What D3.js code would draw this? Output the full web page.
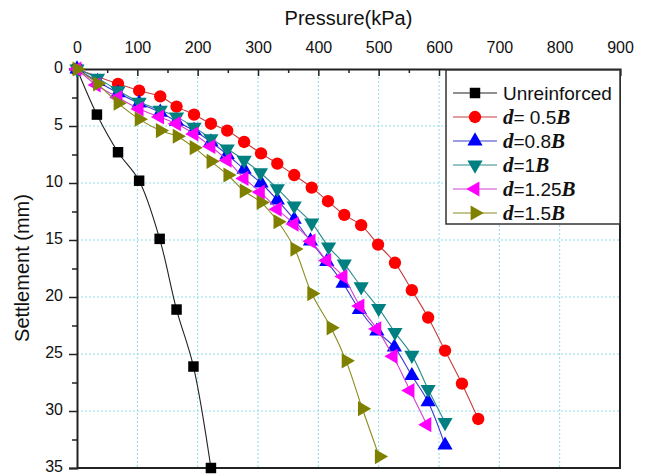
<!DOCTYPE html>
<html>
<head>
<meta charset="utf-8">
<script src="https://cdn.jsdelivr.net/npm/d3@7"></script>
<style>
  body { margin: 0; background: #fff; }
  svg { display: block; }
</style>
</head>
<body>
<div id="chart"></div>
<script>
// pressure (kPa) / settlement (mm)
const unreinforcedP = [0, 33, 68, 103, 137, 165, 193, 222];
const unreinforcedS = [0, 4.0, 7.3, 9.8, 14.9, 21.1, 26.1, 35.0];

const d05P = [0, 68, 103, 138, 165, 194, 222, 249, 277, 305, 332, 360, 389, 416, 443, 471, 499, 527, 555, 582, 610, 638, 665];
const d05S = [0, 1.3, 1.9, 2.4, 3.3, 4.0, 4.8, 5.4, 6.4, 7.4, 8.3, 9.3, 10.4, 11.6, 12.8, 13.7, 15.4, 17.0, 19.4, 21.8, 24.7, 27.6, 30.7];

const d08P = [0, 34, 68, 103, 138, 165, 194, 222, 249, 277, 305, 332, 360, 387, 414, 441, 468, 497, 526, 555, 582, 610];
const d08S = [0, 1.1, 2.1, 3.0, 3.8, 4.6, 5.4, 6.4, 7.5, 8.8, 10.0, 11.5, 13.2, 15.1, 16.9, 18.8, 21.1, 23.0, 24.4, 26.9, 29.2, 33.0];

const d10P = [0, 34, 68, 103, 138, 165, 194, 222, 249, 277, 304, 332, 360, 389, 417, 443, 471, 500, 527, 555, 582, 610];
const d10S = [0, 0.8, 1.9, 2.9, 3.6, 4.2, 5.1, 6.1, 7.0, 8.0, 9.1, 10.5, 12.0, 13.5, 15.6, 17.1, 19.1, 21.0, 23.1, 25.1, 28.1, 31.0];

const d125P = [0, 32, 68, 103, 137, 165, 194, 222, 249, 277, 304, 332, 360, 388, 414, 441, 469, 497, 524, 552, 580];
const d125S = [0, 1.4, 2.5, 3.5, 4.2, 4.8, 5.7, 6.8, 8.0, 9.6, 10.8, 12.3, 13.6, 15.1, 16.8, 18.2, 20.8, 22.8, 25.2, 28.2, 31.2];

const d15P = [0, 34, 68, 103, 138, 166, 194, 222, 250, 277, 305, 333, 361, 389, 421, 446, 473, 501];
const d15S = [0, 1.3, 3.0, 4.4, 5.4, 5.9, 6.9, 8.1, 9.3, 10.7, 11.7, 13.4, 15.8, 19.7, 22.7, 25.6, 29.8, 34.0];

const xTicks = [0, 100, 200, 300, 400, 500, 600, 700, 800, 900];
const yTicks = [0, 5, 10, 15, 20, 25, 30, 35];

const seriesNames = ["Unreinforced", "d= 0.5B", "d=0.8B", "d=1B", "d=1.25B", "d=1.5B"];

const width = 646, height = 474;
const plotLeft = 77, plotRight = 620, plotTop = 69, plotBottom = 468;

const series = [
  { p: unreinforcedP, s: unreinforcedS, marker: "#000000", line: "#222222", shape: d3.symbolSquare, size: 110, rot: 0 },
  { p: d05P, s: d05S, marker: "#ff0000", line: "#c83c3c", shape: d3.symbolCircle, size: 120, rot: 0 },
  { p: d08P, s: d08S, marker: "#0000ff", line: "#3a3ad0", shape: d3.symbolTriangle, size: 100, rot: 0 },
  { p: d10P, s: d10S, marker: "#008080", line: "#2a8a8a", shape: d3.symbolTriangle, size: 100, rot: 180 },
  { p: d125P, s: d125S, marker: "#ff00ff", line: "#d040d0", shape: d3.symbolTriangle, size: 100, rot: -90 },
  { p: d15P, s: d15S, marker: "#808000", line: "#8a8a20", shape: d3.symbolTriangle, size: 100, rot: 90 }
];

let x = d3.scaleLinear().domain([0, 900]).range([plotLeft, plotRight]);
let y = d3.scaleLinear().domain([0, 35]).range([plotTop, plotBottom]);

let svg = d3.select("#chart")
  .append("svg")
    .attr("width", width)
    .attr("height", height)
    .style("font-family", "'Liberation Sans', Arial, sans-serif");

// dotted grid
svg.append("g")
  .selectAll("line")
  .data(xTicks.filter(d => d > 0 && d < 900))
  .enter()
  .append("line")
    .attr("x1", d => x(d)).attr("x2", d => x(d))
    .attr("y1", plotTop).attr("y2", plotBottom)
    .attr("stroke", "#8fdde8")
    .attr("stroke-width", 1)
    .attr("stroke-dasharray", "2,2");

svg.append("g")
  .selectAll("line")
  .data(yTicks.filter(d => d > 0 && d < 35))
  .enter()
  .append("line")
    .attr("x1", plotLeft).attr("x2", plotRight)
    .attr("y1", d => y(d)).attr("y2", d => y(d))
    .attr("stroke", "#8fdde8")
    .attr("stroke-width", 1)
    .attr("stroke-dasharray", "2,2");

// frame (right + bottom)
svg.append("path")
  .attr("d", "M" + plotRight + "," + plotTop + "V" + plotBottom + "H" + plotLeft)
  .attr("fill", "none")
  .attr("stroke", "#222")
  .attr("stroke-width", 2);

// top axis
let xAxis = svg.append("g")
  .attr("transform", "translate(0," + plotTop + ")")
  .call(d3.axisTop(x).tickValues(xTicks).tickSize(-7).tickPadding(16).tickFormat(d3.format("d")));

svg.append("g")
  .attr("transform", "translate(0," + plotTop + ")")
  .call(d3.axisTop(x).tickValues(d3.range(50, 900, 100)).tickSize(-4).tickFormat(""))
  .select(".domain").remove();

// left axis
let yAxis = svg.append("g")
  .attr("transform", "translate(" + plotLeft + ",0)")
  .call(d3.axisLeft(y).tickValues(yTicks).tickSize(8).tickPadding(6).tickFormat(d3.format("d")));

svg.append("g")
  .attr("transform", "translate(" + plotLeft + ",0)")
  .call(d3.axisLeft(y).tickValues(d3.range(2.5, 35, 5)).tickSize(5).tickFormat(""))
  .select(".domain").remove();

svg.selectAll(".tick line").attr("stroke", "#222").attr("stroke-width", 1.5);
svg.selectAll(".domain").attr("stroke", "#222").attr("stroke-width", 2);
xAxis.selectAll("text").style("font-size", "16px").attr("fill", "#111").style("font-family", "'Liberation Sans', Arial, sans-serif");
yAxis.selectAll("text").style("font-size", "16px").attr("fill", "#111").attr("dy", "0.22em").style("font-family", "'Liberation Sans', Arial, sans-serif");

// axis titles
svg.append("text")
  .attr("x", (plotLeft + plotRight) / 2)
  .attr("y", 25)
  .attr("text-anchor", "middle")
  .style("font-size", "20px")
  .style("fill", "#111")
  .text("Pressure(kPa)");

svg.append("text")
  .attr("transform", "translate(29," + 268 + ") rotate(-90)")
  .attr("text-anchor", "middle")
  .style("font-size", "20px")
  .style("fill", "#111")
  .text("Settlement (mm)");

// series
let line = d3.line()
  .x(d => x(d[0]))
  .y(d => y(d[1]))
  .curve(d3.curveCatmullRom);

series.forEach(function(ser) {
  let pts = ser.p.map((v, i) => [v, ser.s[i]]);
  svg.append("path")
    .datum(pts)
    .attr("d", line)
    .attr("fill", "none")
    .attr("stroke", ser.line)
    .attr("stroke-width", 1.1);
  svg.append("g")
    .selectAll("path")
    .data(pts)
    .enter()
    .append("path")
      .attr("d", d3.symbol().type(ser.shape).size(ser.size))
      .attr("transform", d => "translate(" + x(d[0]) + "," + y(d[1]) + ") rotate(" + ser.rot + ")")
      .attr("fill", ser.marker);
});

// legend
let legend = svg.append("g");
legend.append("rect")
  .attr("x", 446).attr("y", 70)
  .attr("width", plotRight - 446).attr("height", 154)
  .attr("fill", "#fff")
  .attr("stroke", "#333")
  .attr("stroke-width", 1.5);

series.forEach(function(ser, i) {
  let cy = 93 + i * 24;
  legend.append("line")
    .attr("x1", 453).attr("x2", 497)
    .attr("y1", cy).attr("y2", cy)
    .attr("stroke", ser.line)
    .attr("stroke-width", 1.1);
  legend.append("path")
    .attr("d", d3.symbol().type(ser.shape).size(ser.size))
    .attr("transform", "translate(475," + cy + ") rotate(" + ser.rot + ")")
    .attr("fill", ser.marker);

  let t = legend.append("text")
    .attr("x", 503)
    .attr("y", cy + 7)
    .style("font-size", "19px")
    .style("fill", "#111");
  let name = seriesNames[i];
  if (name.startsWith("d")) {
    t.append("tspan")
      .style("font-family", "'Liberation Serif', 'Times New Roman', serif")
      .style("font-weight", "bold").style("font-style", "italic")
      .style("font-size", "21px")
      .text("d");
    t.append("tspan").text(name.slice(1, -1));
    t.append("tspan")
      .style("font-family", "'Liberation Serif', 'Times New Roman', serif")
      .style("font-weight", "bold").style("font-style", "italic")
      .style("font-size", "21px")
      .text("B");
  } else {
    t.text(name);
  }
});
</script>
</body>
</html>
